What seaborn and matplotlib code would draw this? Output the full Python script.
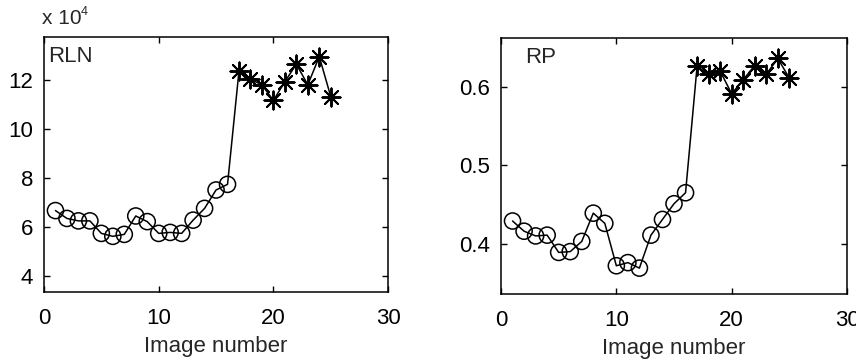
import numpy as np
import pandas as pd
import matplotlib
matplotlib.use("Agg")
import matplotlib.pyplot as plt
import seaborn as sns

# ---- data ----
image_number = list(range(1, 26))
rln_x1e4 = [6.67, 6.35, 6.25, 6.25, 5.74, 5.62, 5.70, 6.45, 6.22, 5.74, 5.78, 5.74,
            6.28, 6.76, 7.51, 7.74, 12.37, 12.03, 11.80, 11.16, 11.93, 12.64, 11.80, 12.95, 11.32]
rp = [0.429, 0.416, 0.410, 0.411, 0.389, 0.390, 0.403, 0.439, 0.426, 0.372, 0.376, 0.369,
      0.411, 0.431, 0.451, 0.465, 0.626, 0.616, 0.620, 0.591, 0.609, 0.627, 0.616, 0.636, 0.611]
group = ["circle"] * 16 + ["star"] * 9
x_ticks = [0, 10, 20, 30]
rln_ticks = [4, 6, 8, 10, 12]
rp_ticks = [0.4, 0.5, 0.6]
x_label = "Image number"

sns.set_theme(style="white")
plt.rcParams["font.family"] = ["Liberation Sans", "DejaVu Sans"]

df = pd.DataFrame({"img": image_number, "rln": rln_x1e4, "rp": rp, "grp": group})

fig = plt.figure(figsize=(8.56, 3.62), dpi=100)
ax1 = fig.add_axes([0.0514, 0.1934, 0.402, 0.7044])
ax2 = fig.add_axes([0.5853, 0.1878, 0.4042, 0.707])

FS = 16
STAR = (8, 2, 0)

def draw(ax, col, ylim, yticks, fmt, name, name_x):
    sns.lineplot(data=df, x="img", y=col, ax=ax, color="black", lw=1.1, legend=False)
    c = df[df.grp == "circle"]
    s = df[df.grp == "star"]
    sns.scatterplot(data=c, x="img", y=col, ax=ax, marker="o", s=135,
                    facecolor="none", edgecolor="black", linewidth=1.1, legend=False, zorder=3)
    sns.scatterplot(data=s, x="img", y=col, ax=ax, marker=STAR, s=170,
                    color="black", linewidth=1.4, legend=False, zorder=3)
    ax.set_xlim(0, 30)
    ax.set_ylim(*ylim)
    ax.set_xticks(x_ticks)
    ax.set_yticks(yticks)
    ax.set_yticklabels([fmt(v) for v in yticks])
    ax.set_xlabel(x_label, fontsize=FS, labelpad=5)
    ax.set_ylabel("")
    ax.tick_params(axis="both", direction="in", length=4, width=1, top=True, right=True,
                   bottom=True, left=True, labelsize=FS, colors="black")
    ax.tick_params(axis="x", pad=11.5)
    ax.tick_params(axis="y", pad=8)
    for sp in ax.spines.values():
        sp.set_visible(True)
        sp.set_color("black")
        sp.set_linewidth(1.1)
    ax.text(name_x, 0.965, name, transform=ax.transAxes, fontsize=FS, va="top", ha="left")

draw(ax1, "rln", (3.35, 13.75), rln_ticks, lambda v: f"{v:d}", "RLN", 0.012)
draw(ax2, "rp", (0.336, 0.662), rp_ticks, lambda v: f"{v:.1f}", "RP", 0.07)

fig.text(0.049, 0.935, "x 10", fontsize=15, ha="left", va="baseline")
fig.text(0.094, 0.958, "4", fontsize=9, ha="left", va="baseline")

fig.savefig("out.png", dpi=100)
